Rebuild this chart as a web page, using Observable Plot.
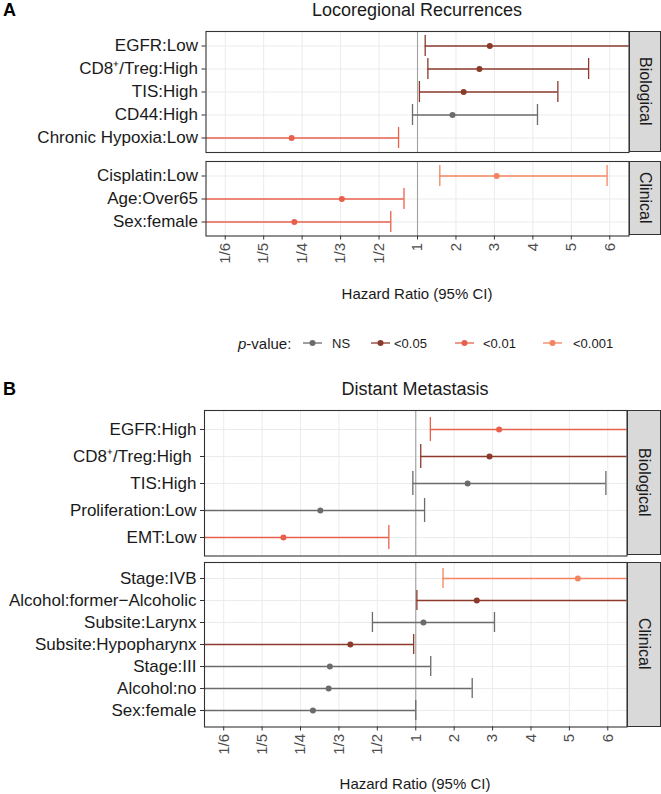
<!DOCTYPE html>
<html>
<head>
<meta charset="utf-8">
<script src="https://cdn.jsdelivr.net/npm/d3@7"></script>
<script src="https://cdn.jsdelivr.net/npm/@observablehq/plot@0.6"></script>
<style>
  html, body { margin: 0; padding: 0; background: #fff; }
  #root { position: relative; width: 661px; height: 794px; overflow: hidden; font-family: 'Liberation Sans', Arial, Helvetica, sans-serif; color: #1a1a1a; }
  .txt { position: absolute; white-space: nowrap; line-height: 1; }
  .strip { position: absolute; box-sizing: border-box; background: #d9d9d9; border: 1px solid #333; display: flex; align-items: center; justify-content: center; }
  .strip span { writing-mode: vertical-rl; font-size: 16px; color: #1a1a1a; }
</style>
</head>
<body>
<div id="root"></div>
<script>
// ---- data ----
const pLevels = ["NS", "<0.05", "<0.01", "<0.001"];
const pColors = ["#6b6b6b", "#8b3a2c", "#e8604c", "#f4845f"];
const tickHR = [1/6, 1/5, 1/4, 1/3, 1/2, 1, 2, 3, 4, 5, 6];
const tickLabels = ["1/6", "1/5", "1/4", "1/3", "1/2", "1", "2", "3", "4", "5", "6"];

// A: Locoregional Recurrences
const locoBioLabels = ["EGFR:Low", "CD8\u207A/Treg:High", "TIS:High", "CD44:High", "Chronic Hypoxia:Low"];
const locoBioHR    = [2.88, 2.61, 2.20, 1.91, 0.234];
const locoBioLower = [1.20, 1.27, 1.05, 0.885, 0.08];
const locoBioUpper = [6.9, 5.45, 4.65, 4.12, 0.67];
const locoBioP     = ["<0.05", "<0.05", "<0.05", "NS", "<0.01"];

const locoClinLabels = ["Cisplatin:Low", "Age:Over65", "Sex:female"];
const locoClinHR    = [3.06, 0.337, 0.238];
const locoClinLower = [1.58, 0.14, 0.096];
const locoClinUpper = [5.93, 0.74, 0.59];
const locoClinP     = ["<0.001", "<0.01", "<0.01"];

// B: Distant Metastasis
const distBioLabels = ["EGFR:High", "CD8\u207A/Treg:High\u00A0", "TIS:High", "Proliferation:Low", "EMT:Low"];
const distBioHR    = [3.17, 2.92, 2.35, 0.287, 0.225];
const distBioLower = [1.38, 1.13, 0.93, 0.067, 0.086];
const distBioUpper = [7.3, 7.5, 5.95, 1.23, 0.588];
const distBioP     = ["<0.01", "<0.05", "NS", "NS", "<0.01"];

const distClinLabels = ["Stage:IVB", "Alcohol:former\u2212Alcoholic", "Subsite:Larynx", "Subsite:Hypopharynx", "Stage:III", "Alcohol:no", "Sex:female"];
const distClinHR    = [5.22, 2.59, 1.20, 0.37, 0.309, 0.306, 0.272];
const distClinLower = [1.71, 1.03, 0.47, 0.14, 0.069, 0.038, 0.074];
const distClinUpper = [15.9, 6.8, 3.05, 0.948, 1.39, 2.47, 1.0];
const distClinP     = ["<0.001", "<0.05", "NS", "<0.05", "NS", "NS", "NS"];

// ---- helpers ----
const tf = h => h >= 1 ? h - 1 : 1 - 1 / h;   // symmetric hazard-ratio axis
const tickT = tickHR.map(tf);
const labelMap = new Map(tickT.map((t, i) => [Math.round(t * 1000), tickLabels[i]]));
const fontFam = "'Liberation Sans', Arial, Helvetica, sans-serif";
const root = document.getElementById("root");

function addText(str, x, y, opts = {}) {
  const d = document.createElement("div");
  d.className = "txt";
  d.innerHTML = str;
  d.style.left = x + "px";
  d.style.top = y + "px";
  d.style.fontSize = (opts.size || 15) + "px";
  if (opts.bold) d.style.fontWeight = "bold";
  if (opts.color) d.style.color = opts.color;
  const ax = opts.anchor === "start" ? "0" : opts.anchor === "end" ? "-100%" : "-50%";
  d.style.transform = `translate(${ax}, -50%)`;
  root.appendChild(d);
}

function facet({labels, hr, lo, hi, p, left, right, top, bottom, strip, axis}) {
  const data = labels.map((label, i) => ({label, hr: hr[i], lo: lo[i], hi: hi[i], p: p[i]}));
  const pad = 2;
  const mb = axis ? 40 : pad;
  const marks = [
    Plot.gridX(tickT, {stroke: "#ebebeb", strokeOpacity: 1, strokeWidth: 1}),
    Plot.gridY({stroke: "#ebebeb", strokeOpacity: 1, strokeWidth: 1}),
    Plot.ruleX([0], {stroke: "#a0a0a0", strokeWidth: 1.1}),
    Plot.ruleY(data, {y: "label", x1: d => tf(d.lo), x2: d => tf(d.hi), stroke: "p", strokeWidth: 1.3, clip: true}),
    Plot.tickX(data, {x: d => tf(d.lo), y: "label", stroke: "p", strokeWidth: 1.3, clip: true}),
    Plot.tickX(data, {x: d => tf(d.hi), y: "label", stroke: "p", strokeWidth: 1.3, clip: true}),
    Plot.dot(data, {x: d => tf(d.hr), y: "label", fill: "p", r: 3}),
    Plot.frame({stroke: "#333", strokeWidth: 1.1}),
    Plot.axisY({tickSize: 4, tickPadding: 4, fontSize: 17, fill: "#1a1a1a", stroke: "#333", label: null})
  ];
  if (axis) {
    marks.push(Plot.axisX(tickT, {
      tickFormat: d => labelMap.get(Math.round(d * 1000)),
      tickRotate: -90, tickSize: 4, tickPadding: 3, fontSize: 15,
      fill: "#4d4d4d", stroke: "#333", label: null
    }));
  }
  const plot = Plot.plot({
    width: 661,
    height: (bottom - top) + pad + mb,
    marginLeft: left, marginRight: 661 - right, marginTop: pad, marginBottom: mb,
    style: {fontFamily: fontFam, overflow: "visible", background: "transparent"},
    x: axis ? {domain: [-5.5, 5.5]} : {domain: [-5.5, 5.5], axis: null},
    y: {type: "band", domain: labels, paddingInner: 0.1, paddingOuter: 0.15},
    color: {domain: pLevels, range: pColors},
    marks
  });
  plot.style.position = "absolute";
  plot.style.left = "0px";
  plot.style.top = (top - pad) + "px";
  root.appendChild(plot);

  const s = document.createElement("div");
  s.className = "strip";
  s.style.left = right + "px";
  s.style.top = top + "px";
  s.style.width = (660.5 - right) + "px";
  s.style.height = (bottom - top) + "px";
  s.innerHTML = `<span>${strip}</span>`;
  root.appendChild(s);
}

// ---- Panel A ----
addText("A", 3, 10, {size: 18, bold: true, anchor: "start", color: "#000"});
addText("Locoregional Recurrences", 417, 10, {size: 18});
facet({labels: locoBioLabels, hr: locoBioHR, lo: locoBioLower, hi: locoBioUpper, p: locoBioP,
  left: 205.5, right: 628.5, top: 30.5, bottom: 151.5, strip: "Biological", axis: false});
facet({labels: locoClinLabels, hr: locoClinHR, lo: locoClinLower, hi: locoClinUpper, p: locoClinP,
  left: 205.5, right: 628.5, top: 160.5, bottom: 235, strip: "Clinical", axis: true});
addText("Hazard Ratio (95% CI)", 417, 293, {size: 15});

// ---- legend ----
(function legend() {
  const y = 343;
  addText("<i>p</i>-value:", 238, y, {size: 15, anchor: "start"});
  const keyX = [303, 371, 455, 543];
  const textX = [332, 394, 483, 573];
  pLevels.forEach((lv, i) => {
    const svg = d3.create("svg").attr("width", 20).attr("height", 10)
      .style("position", "absolute").style("left", keyX[i] + "px").style("top", (y - 5) + "px");
    svg.append("line").attr("x1", 0).attr("x2", 19).attr("y1", 5).attr("y2", 5)
      .attr("stroke", pColors[i]).attr("stroke-width", 1.3);
    svg.append("circle").attr("cx", 9.5).attr("cy", 5).attr("r", 3).attr("fill", pColors[i]);
    root.appendChild(svg.node());
    addText(lv.replace("<", "&lt;"), textX[i], y, {size: 13, anchor: "start"});
  });
})();

// ---- Panel B ----
addText("B", 3, 389, {size: 18, bold: true, anchor: "start", color: "#000"});
addText("Distant Metastasis", 415, 389, {size: 18});
facet({labels: distBioLabels, hr: distBioHR, lo: distBioLower, hi: distBioUpper, p: distBioP,
  left: 204, right: 626.5, top: 409.5, bottom: 555, strip: "Biological", axis: false});
facet({labels: distClinLabels, hr: distClinHR, lo: distClinLower, hi: distClinUpper, p: distClinP,
  left: 204, right: 626.5, top: 562, bottom: 726.5, strip: "Clinical", axis: true});
addText("Hazard Ratio (95% CI)", 415, 783, {size: 15});
</script>
</body>
</html>
